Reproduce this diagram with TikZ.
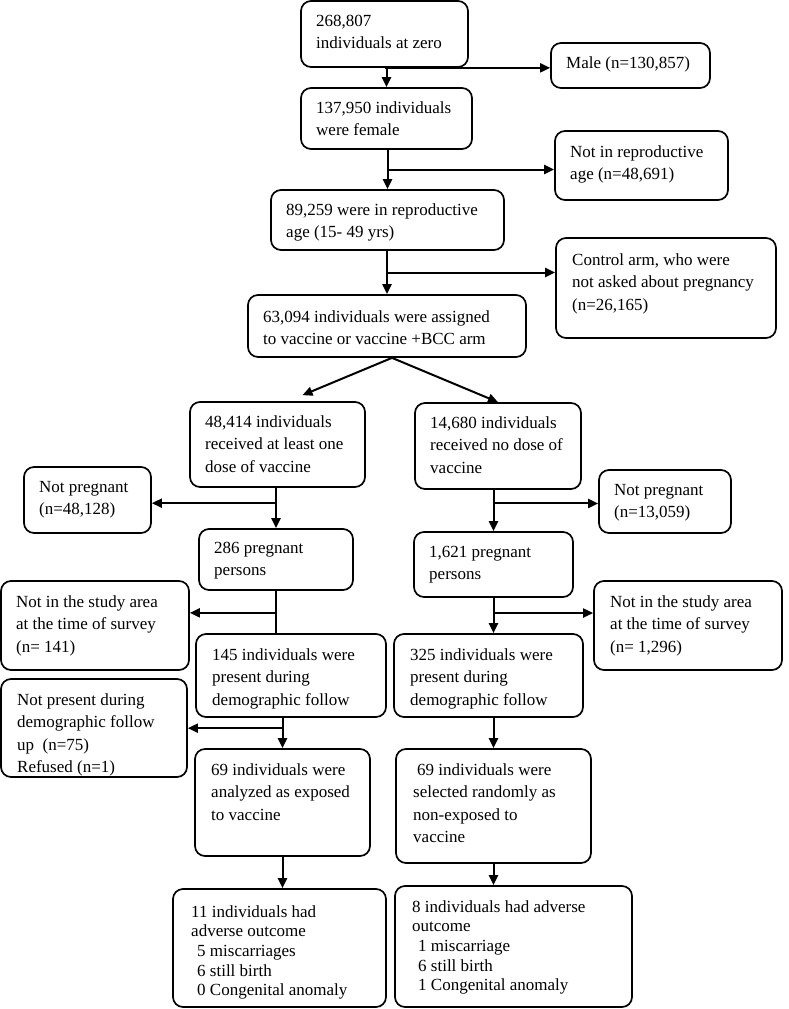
\documentclass[tikz,border=0pt]{standalone}
\usepackage{fontspec}
\setmainfont{Liberation Serif}
\usetikzlibrary{arrows.meta,fit,calc}
\tikzset{
  box/.style={draw, line width=1.7pt, rounded corners=10pt, inner sep=0pt},
  txt/.style={anchor=north west, inner sep=0pt, align=left, font=\fontsize{17}{22.5}\selectfont},
  tight/.style={font=\fontsize{17}{19.6}\selectfont},
  arr/.style={line width=2pt, -{Triangle[length=10pt,width=9pt]}},
  ln/.style={line width=2pt}
}
% name, x1, y1, x2, y2, padx, first baseline, text options, text
\newcommand\bx[9]{%
  \node[box, fit={(#2,#3) (#4,#5)}] (#1) {};
  \node[txt,#8] at (#2+#6, #3+#7-13) {\rule{0pt}{13pt}#9};
}
\begin{document}
\begin{tikzpicture}[x=1pt,y=-1pt]
\useasboundingbox (0,0) rectangle (788,1009);

\bx{A}{301}{1}{468}{67}{15}{25}{}{268,807\\individuals at zero}
\bx{Male}{551}{43}{710}{88}{15}{25}{}{Male (n=130,857)}
\bx{B}{301}{88}{472}{149}{15}{25}{}{137,950 individuals\\were female}
\bx{NR}{555}{131}{728}{200}{15}{26}{}{Not in reproductive\\age (n=48,691)}
\bx{C}{271}{190}{504}{250}{15}{25}{}{89,259 were in reproductive\\age (15- 49 yrs)}
\bx{CA}{556}{238}{776}{338}{16}{27}{}{Control arm, who were\\not asked about pregnancy\\(n=26,165)}
\bx{D}{248}{295}{526}{357}{15}{27}{}{63,094 individuals were assigned\\to vaccine or vaccine +BCC arm}
\bx{E}{190}{402}{365}{487}{15}{25}{}{48,414 individuals\\received at least one\\dose of vaccine}
\bx{F}{415}{403}{581}{489}{15}{25}{}{14,680 individuals\\received no dose of\\vaccine}
\bx{NPL}{24}{467}{151}{533}{15}{25}{}{Not pregnant\\(n=48,128)}
\bx{NPR}{599}{470}{731}{533}{15}{25}{}{Not pregnant\\(n=13,059)}
\bx{G}{199}{529}{353}{590}{15}{24}{}{286 pregnant\\persons}
\bx{H}{414}{532}{573}{597}{15}{25}{}{1,621 pregnant\\persons}
\bx{NSL}{1}{581}{189}{670}{15}{26}{}{Not in the study area\\at the time of survey\\(n= 141)}
\bx{NSR}{594}{581}{782}{670}{16}{26}{}{Not in the study area\\at the time of survey\\(n= 1,296)}
\bx{I}{196}{634}{386}{717}{16}{26}{}{145 individuals were\\present during\\demographic follow}
\bx{J}{394}{634}{583}{717}{16}{26}{}{325 individuals were\\present during\\demographic follow}
\bx{NPrL}{1}{679}{187}{777}{16}{26}{}{Not present during\\demographic follow\\up~~(n=75)\\Refused (n=1)}
\bx{K}{195}{749}{370}{856}{16}{26}{}{69 individuals were\\analyzed as exposed\\to vaccine}
\bx{L}{396}{749}{591}{863}{17}{26}{}{\hspace*{4pt}69 individuals were\\selected randomly as\\non-exposed to\\vaccine}
\bx{M}{173}{889}{386}{1007}{18}{28}{tight}{11 individuals had\\adverse outcome\\\hspace*{6pt}5 miscarriages\\\hspace*{6pt}6 still birth\\\hspace*{6pt}0 Congenital anomaly}
\bx{N}{395}{886}{632}{1007}{17}{26}{tight}{8 individuals had adverse\\outcome\\\hspace*{6pt}1 miscarriage\\\hspace*{6pt}6 still birth\\\hspace*{6pt}1 Congenital anomaly}

% connectors
\draw[arr] (A.south -| B.north) -- (B.north);
\draw[arr] (A.south) -- (A.south -| Male.west);

\draw[arr] (B.south -| C.north) -- (C.north);
\coordinate (b1) at ($(B.south -| C.north)!0.5!(C.north)$);
\draw[arr] (b1) -- (b1 -| NR.west);

\draw[arr] (C.south -| D.north) -- (D.north);
\coordinate (c1) at ($(C.south -| D.north)!0.5!(D.north)$);
\draw[arr] (c1) -- (c1 -| CA.west);

\coordinate (d1) at ($(D.south)+(5,0)$);
\draw[arr] (d1) -- ($(E.north)+(25,-6)$);
\draw[arr] (d1) -- (F.north);

\draw[arr] (E.south -| G.north) -- (G.north);
\coordinate (e1) at ($(E.south -| G.north)!0.38!(G.north)$);
\draw[arr] (e1) -- (e1 -| NPL.east);

\draw[arr] (F.south -| H.north) -- (H.north);
\coordinate (f1) at ($(F.south -| H.north)!0.33!(H.north)$);
\draw[arr] (f1) -- (f1 -| NPR.west);

\draw[ln] (G.south) -- (G.south |- I.north);
\coordinate (g1) at ($(G.south)!0.52!(G.south |- I.north)$);
\draw[arr] (g1) -- (g1 -| NSL.east);

\draw[arr] (H.south) -- (H.south |- J.north);
\coordinate (h1) at ($(H.south)!0.43!(H.south |- J.north)$);
\draw[arr] (h1) -- (h1 -| NSR.west);

\draw[arr] (I.south -| K.north) -- (K.north);
\coordinate (i1) at ($(I.south -| K.north)!0.34!(K.north)$);
\draw[arr] (i1) -- (i1 -| NPrL.east);

\draw[arr] (J.south -| L.north) -- (L.north);

\draw[arr] (K.south) -- (K.south |- M.north);
\draw[arr] (L.south) -- (L.south |- N.north);
\end{tikzpicture}
\end{document}
